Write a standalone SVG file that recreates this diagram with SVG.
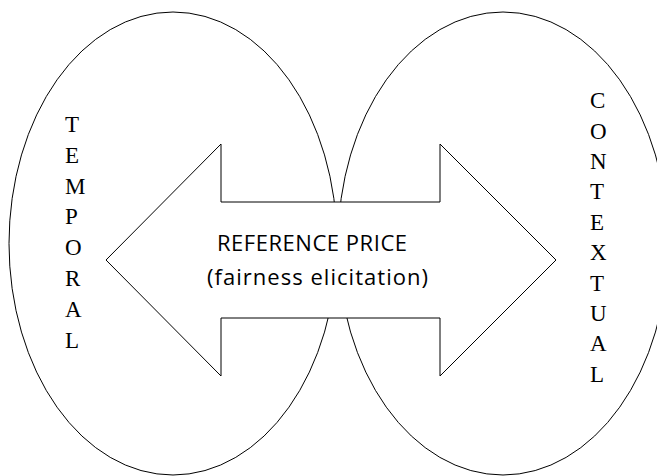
<svg xmlns="http://www.w3.org/2000/svg" width="657" height="476" viewBox="0 0 657 476">
<style>
.shape{fill:none;stroke:#000;stroke-width:1}
.arrow{fill:#fff;stroke:#000;stroke-width:1;stroke-linejoin:miter}
.vert{font-family:"Liberation Serif","Times New Roman",serif;font-size:23px;fill:#000}
.center{font-family:"Open Sans","Noto Sans",sans-serif;font-size:22px;fill:#000}
</style>
<rect width="657" height="476" fill="#fff"/>
<g id="temporal">
<ellipse class="shape" cx="173" cy="243.5" rx="164" ry="231.5"/>
<text class="vert" x="65" y="131.7"><tspan x="65">T</tspan><tspan x="65" dy="30.9">E</tspan><tspan x="65" dy="30.9">M</tspan><tspan x="65" dy="30.9">P</tspan><tspan x="65" dy="30.9">O</tspan><tspan x="65" dy="30.9">R</tspan><tspan x="65" dy="30.9">A</tspan><tspan x="65" dy="30.9">L</tspan></text>
</g>
<g id="contextual">
<ellipse class="shape" cx="503" cy="243.5" rx="165" ry="231.5"/>
<text class="vert" x="590" y="108.3"><tspan x="590">C</tspan><tspan x="590" dy="30.37">O</tspan><tspan x="590" dy="30.37">N</tspan><tspan x="590" dy="30.37">T</tspan><tspan x="590" dy="30.37">E</tspan><tspan x="590" dy="30.37">X</tspan><tspan x="590" dy="30.37">T</tspan><tspan x="590" dy="30.37">U</tspan><tspan x="590" dy="30.37">A</tspan><tspan x="590" dy="30.37">L</tspan></text>
</g>
<g id="connectors">
<polygon class="arrow" points="106,260 221,144 221,202 440,202 440,144 556,260 440,376 440,318 221,318 221,376"/>
</g>
<g id="reference-price">
<text class="center" x="217" y="251" textLength="190">REFERENCE PRICE</text>
<text class="center" x="207" y="285" textLength="221">(fairness elicitation)</text>
</g>
</svg>
